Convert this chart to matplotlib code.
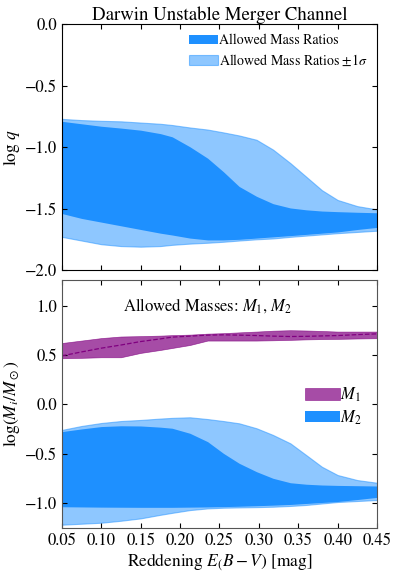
import numpy as np
import matplotlib.pyplot as plt

plt.rcParams['font.family'] = 'STIXGeneral'
plt.rcParams['mathtext.fontset'] = 'stix'
plt.rcParams['xtick.direction'] = 'in'
plt.rcParams['ytick.direction'] = 'in'
plt.rcParams['xtick.top'] = True
plt.rcParams['ytick.right'] = True

# reddening grid
ebv = [0.05, 0.075, 0.10, 0.125, 0.15, 0.175, 0.19, 0.2125, 0.235, 0.255, 0.275, 0.297,
       0.318, 0.34, 0.36, 0.38, 0.40, 0.425, 0.45]

# log q: allowed mass ratios
q_lo = [-1.54, -1.58, -1.61, -1.64, -1.67, -1.70, -1.715, -1.74, -1.755, -1.755, -1.75,
        -1.74, -1.73, -1.72, -1.71, -1.70, -1.69, -1.67, -1.653]
q_hi = [-0.79, -0.81, -0.83, -0.845, -0.862, -0.89, -0.916, -0.997, -1.09, -1.20, -1.32,
        -1.40, -1.46, -1.495, -1.51, -1.52, -1.525, -1.53, -1.534]
# log q: +-1 sigma
qs_lo = [-1.73, -1.76, -1.79, -1.805, -1.81, -1.805, -1.795, -1.785, -1.778, -1.77, -1.76,
         -1.75, -1.743, -1.73, -1.72, -1.71, -1.70, -1.69, -1.68]
qs_hi = [-0.77, -0.78, -0.786, -0.79, -0.80, -0.81, -0.82, -0.84, -0.857, -0.88, -0.905,
         -0.94, -1.02, -1.13, -1.24, -1.35, -1.43, -1.48, -1.507]

# log M1
m1_lo = [0.466, 0.47, 0.476, 0.476, 0.52, 0.55, 0.57, 0.60, 0.645, 0.645, 0.645,
         0.645, 0.648, 0.652, 0.657, 0.66, 0.662, 0.666, 0.669]
m1_hi = [0.62, 0.645, 0.67, 0.686, 0.69, 0.695, 0.70, 0.705, 0.715, 0.72, 0.728,
         0.736, 0.745, 0.75, 0.747, 0.742, 0.736, 0.736, 0.736]
m1_mid = [0.49, 0.53, 0.568, 0.60, 0.635, 0.662, 0.68, 0.69, 0.70, 0.703, 0.70,
          0.696, 0.69, 0.686, 0.688, 0.692, 0.696, 0.705, 0.713]

# log M2
m2_lo = [-1.038, -1.04, -1.042, -1.043, -1.044, -1.044, -1.044, -1.042, -1.04, -1.037, -1.033,
         -1.028, -1.022, -1.015, -1.005, -0.995, -0.985, -0.965, -0.943]
m2_hi = [-0.277, -0.25, -0.226, -0.218, -0.22, -0.232, -0.243, -0.294, -0.379, -0.497, -0.598,
         -0.683, -0.75, -0.795, -0.81, -0.818, -0.822, -0.825, -0.828]
m2s_lo = [-1.22, -1.21, -1.20, -1.18, -1.156, -1.12, -1.10, -1.072, -1.055, -1.048, -1.045,
          -1.042, -1.038, -1.03, -1.02, -1.005, -0.99, -0.98, -0.97]
m2s_hi = [-0.26, -0.22, -0.19, -0.17, -0.159, -0.145, -0.138, -0.132, -0.15, -0.17, -0.193,
          -0.243, -0.311, -0.396, -0.514, -0.633, -0.717, -0.768, -0.795]

xticks = [0.05, 0.10, 0.15, 0.20, 0.25, 0.30, 0.35, 0.40, 0.45]

fig = plt.figure(figsize=(3.99, 5.77), dpi=100)
ax1 = fig.add_axes([0.155, 0.532, 0.79, 0.426])
ax2 = fig.add_axes([0.155, 0.0855, 0.79, 0.4295])

ax1.fill_between(ebv, qs_lo, qs_hi, color='dodgerblue', alpha=0.5, lw=0.8,
                 label=r'Allowed Mass Ratios $\pm1\sigma$')
ax1.fill_between(ebv, q_lo, q_hi, color='dodgerblue', lw=0,
                 label='Allowed Mass Ratios')
h, l = ax1.get_legend_handles_labels()
ax1.legend(h[::-1], l[::-1], loc='upper right', frameon=False, fontsize=10,
           handlelength=2.1, handletextpad=0.05, borderaxespad=0.3, labelspacing=0.4)
ax1.set_xlim(0.05, 0.45)
ax1.set_ylim(-2.0, 0.0)
ax1.set_yticks([-2.0, -1.5, -1.0, -0.5, 0.0])
ax1.set_yticklabels(['\u22122.0', '\u22121.5', '\u22121.0', '\u22120.5', '0.0'])
ax1.set_xticks(xticks)
ax1.set_xticklabels([])
ax1.set_ylabel(r'$\log\,q$', fontsize=12.5, labelpad=2)
ax1.set_title('Darwin Unstable Merger Channel', fontsize=13.5, pad=3)
ax1.tick_params(labelsize=12)

ax2.fill_between(ebv, m1_lo, m1_hi, color='purple', alpha=0.7, lw=0.5, label=r'$M_1$')
ax2.plot(ebv, m1_mid, color='purple', ls='--', lw=0.9)
ax2.fill_between(ebv, m2s_lo, m2s_hi, color='dodgerblue', alpha=0.5, lw=0.8)
ax2.fill_between(ebv, m2_lo, m2_hi, color='dodgerblue', lw=0, label=r'$M_2$')
ax2.legend(loc='center right', bbox_to_anchor=(1.0, 0.49), frameon=False, fontsize=12,
           handlelength=2.1, handletextpad=0.05, labelspacing=0.25)
ax2.text(0.235, 1.0, r'Allowed Masses: $M_1$, $M_2$', ha='center', va='center', fontsize=12)
ax2.set_xlim(0.05, 0.45)
ax2.set_ylim(-1.25, 1.26)
ax2.set_yticks([-1.0, -0.5, 0.0, 0.5, 1.0])
ax2.set_yticklabels(['\u22121.0', '\u22120.5', '0.0', '0.5', '1.0'])
ax2.set_xticks(xticks)
ax2.set_xticklabels(['%.2f' % v for v in xticks])
ax2.set_xlabel(r'Reddening $E_(B-V)$ [mag]', fontsize=12.5, labelpad=2)
ax2.set_ylabel(r'$\log(M_i/M_\odot)$', fontsize=12.5, labelpad=2)
ax2.tick_params(labelsize=12)
for s in ax2.spines.values():
    s.set_color('#555555')

fig.savefig('out.png', dpi=100)
